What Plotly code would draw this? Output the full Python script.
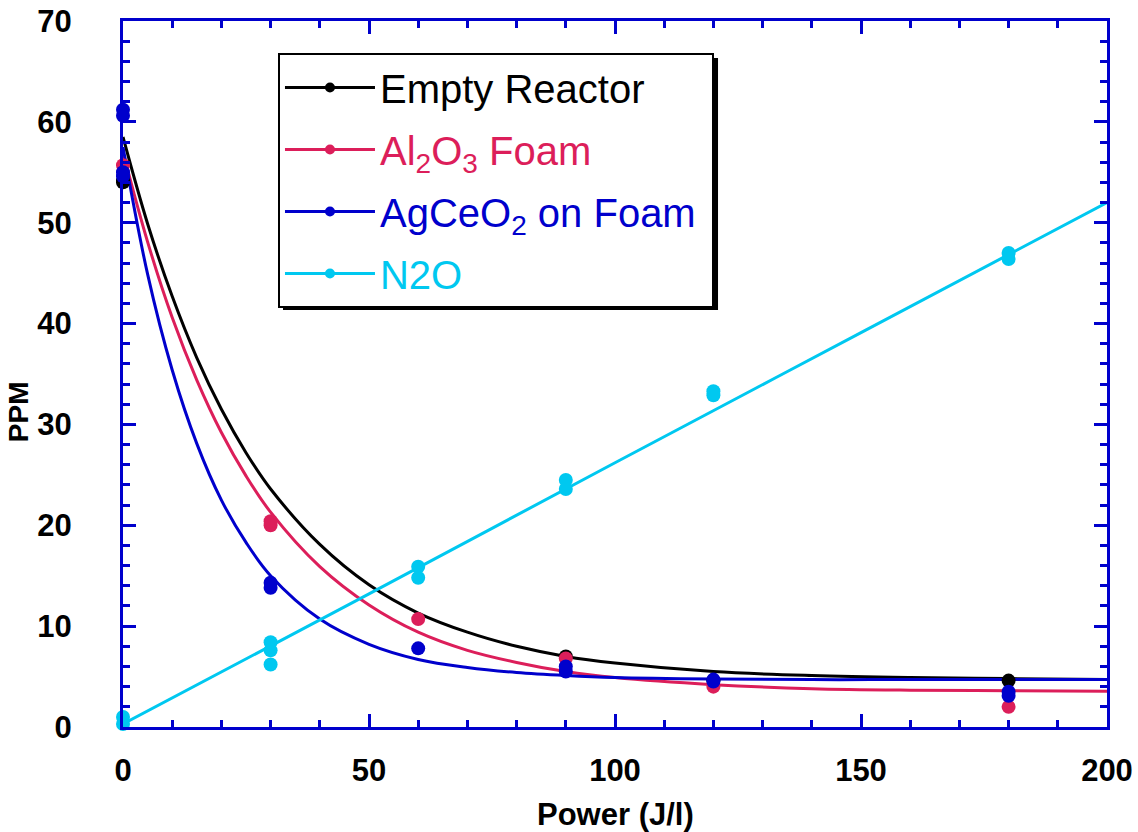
import plotly.graph_objects as go

# ---- data ----
empty_x = [0, 0, 90, 120, 180]
empty_y = [54.2, 54.0, 7.0, 4.6, 4.6]
al_x = [0, 30, 30, 60, 90, 120, 180]
al_y = [55.7, 20.0, 20.4, 10.7, 6.8, 4.0, 2.0]
ag_x = [0, 0, 0, 0, 30, 30, 60, 90, 90, 120, 120, 180, 180]
ag_y = [61.2, 60.6, 55.0, 54.6, 14.3, 13.8, 7.8, 6.0, 5.5, 4.7, 4.5, 3.5, 3.1]
n2o_x = [0, 0, 30, 30, 30, 60, 60, 90, 90, 120, 120, 180, 180]
n2o_y = [0.3, 1.0, 8.4, 7.6, 6.2, 15.9, 14.8, 24.5, 23.6, 33.3, 32.9, 47.0, 46.4]

curve_x = [0, 5, 10, 15, 20, 25, 30, 40, 50, 60, 70, 80, 90, 100, 120, 140, 160, 180, 200]
empty_fit = [58.5, 49.9, 42.7, 36.6, 31.5, 27.2, 23.6, 18.1, 14.1, 11.3, 9.4, 8.0, 7.0, 6.35, 5.5, 5.1, 4.9, 4.8, 4.7]
al_fit = [57.0, 48.1, 40.6, 34.4, 29.2, 24.9, 21.3, 15.9, 12.1, 9.4, 7.6, 6.4, 5.5, 4.9, 4.2, 3.8, 3.65, 3.6, 3.55]
ag_fit = [57.5, 44.9, 35.4, 28.1, 22.5, 18.3, 15.0, 10.7, 8.2, 6.7, 5.9, 5.4, 5.1, 4.9, 4.75, 4.7, 4.7, 4.7, 4.7]
n2o_fit_x = [0, 50, 100, 150, 200]
n2o_fit = [0.3, 13.2, 26.2, 39.1, 52.0]

x_ticks = [0, 50, 100, 150, 200]
y_ticks = [0, 10, 20, 30, 40, 50, 60, 70]

names = ["Empty Reactor", "Al<sub>2</sub>O<sub>3</sub> Foam", "AgCeO<sub>2</sub> on Foam&nbsp;", "N2O"]
colors = ["#000000", "#DC1E5A", "#0000CC", "#00C8F0"]

FONT = "Arial, Liberation Sans, sans-serif"
fig = go.Figure()

series = [
    (empty_x, empty_y, curve_x, empty_fit),
    (al_x, al_y, curve_x, al_fit),
    (ag_x, ag_y, curve_x, ag_fit),
    (n2o_x, n2o_y, n2o_fit_x, n2o_fit),
]

for (px, py, cx, cy), name, col in zip(series, names, colors):
    fig.add_trace(go.Scatter(
        x=cx, y=cy, mode="lines", line=dict(color=col, width=3, shape="spline"),
        showlegend=False, hoverinfo="skip", cliponaxis=False))
for (px, py, cx, cy), name, col in zip(series, names, colors):
    fig.add_trace(go.Scatter(
        x=px, y=py, mode="markers", marker=dict(color=col, size=14),
        showlegend=False, cliponaxis=False))
# legend entries (line + marker)
for i, (name, col) in enumerate(zip(names, colors)):
    fig.add_trace(go.Scatter(
        x=[None], y=[None], mode="lines+markers",
        line=dict(color=col, width=3), marker=dict(color=col, size=10),
        legendgroup=f"g{i}",
        name=f"<span style='color:{col}'>{name}</span>"))

axis_col = "#0000CC"
common = dict(showgrid=False, zeroline=False, showline=True, linecolor=axis_col, linewidth=3,
              mirror="ticks", ticks="inside", tickcolor=axis_col, tickwidth=2.5,
              automargin=False,
              tickfont=dict(family=FONT, size=31, color="black", weight="bold"))

fig.update_xaxes(range=[0, 200], tickvals=x_ticks, ticklen=13,
                 minor=dict(ticks="inside", dtick=10, ticklen=7, tickcolor=axis_col, tickwidth=2.5),
                 ticklabelstandoff=14, **common)
fig.update_yaxes(range=[0, 70], tickvals=y_ticks, ticklen=13,
                 minor=dict(ticks="inside", dtick=2, ticklen=7, tickcolor=axis_col, tickwidth=2.5),
                 ticklabelstandoff=42, **common)

# legend drop shadow
fig.add_shape(type="rect", xref="paper", yref="paper",
              x0=0.1626, x1=0.6047, y0=0.5907, y1=0.9476,
              fillcolor="black", line=dict(width=0), layer="above")

fig.add_annotation(text="<b>Power (J/l)</b>", xref="paper", yref="paper",
                   x=0.5, y=-0.1246, xanchor="center", yanchor="middle", showarrow=False,
                   font=dict(family=FONT, size=31, color="black"))
fig.add_annotation(text="<b>PPM</b>", xref="paper", yref="paper", textangle=-90,
                   x=-0.1067, y=0.446, xanchor="center", yanchor="middle", showarrow=False,
                   font=dict(family=FONT, size=28, color="black"))

fig.update_layout(
    width=1138, height=832, autosize=False,
    margin=dict(l=123, r=31, t=21, b=105),
    paper_bgcolor="white", plot_bgcolor="white",
    font=dict(family=FONT, color="black"),
    showlegend=True,
    legend=dict(x=0.1575, y=0.9547, xanchor="left", yanchor="top",
                bgcolor="white", bordercolor="black", borderwidth=2,
                font=dict(family=FONT, size=40), itemwidth=90,
                tracegroupgap=7),
)
fig.write_html("out.html")
